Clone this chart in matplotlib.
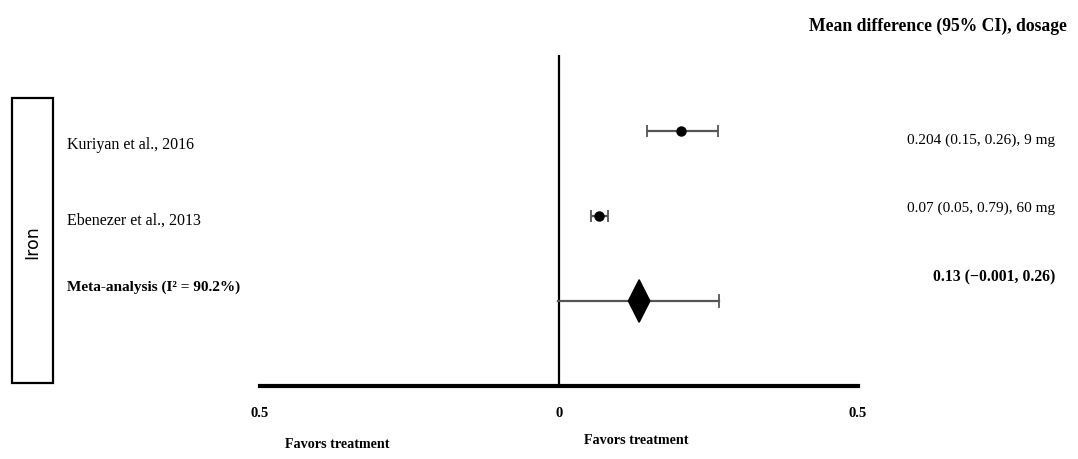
import matplotlib.pyplot as plt
from matplotlib.patches import Polygon, Rectangle

# study rows, top to bottom
studies = ["Kuriyan et al., 2016", "Ebenezer et al., 2013"]
estimates = [0.204, 0.067]
ci_low = [0.147, 0.053]
ci_high = [0.266, 0.082]
value_labels = ["0.204 (0.15, 0.26), 9 mg", "0.07 (0.05, 0.79), 60 mg"]

meta_label = "Meta-analysis (I² = 90.2%)"
meta_est = 0.134
meta_low = -0.001
meta_high = 0.267
meta_value = "0.13 (\u22120.001, 0.26)"

group = "Iron"
header = "Mean difference (95% CI), dosage"
tick_pos = [-0.5, 0, 0.5]
tick_text = ["0.5", "0", "0.5"]
favors = "Favors treatment"

W, H = 1078, 459
SERIF = ["Liberation Serif", "DejaVu Serif"]


def fx(px):
    return px / W


def fy(py):
    return 1 - py / H


fig = plt.figure(figsize=(W / 100, H / 100), dpi=100)
ax = fig.add_axes([fx(260), fy(386), (858 - 260) / W, (386 - 55) / H])
ax.set_xlim(-0.5, 0.5)
ax.set_ylim(3.0, -0.894)

for s in ["top", "right", "left"]:
    ax.spines[s].set_visible(False)
ax.spines["bottom"].set_linewidth(3)
ax.set_yticks([])
ax.set_xticks(tick_pos)
ax.set_xticklabels(tick_text, family=SERIF, fontweight="bold", fontsize=10.5)
ax.tick_params(axis="x", length=0, pad=15)

ax.axvline(0, color="black", lw=1.6, zorder=1)

rows = list(range(len(studies)))
for i in rows:
    ax.errorbar(estimates[i], i,
                xerr=[[estimates[i] - ci_low[i]], [ci_high[i] - estimates[i]]],
                fmt="o", color="black", ms=6.5, ecolor="#555555", elinewidth=1.6,
                capsize=4.5, capthick=1.3, zorder=3)

mrow = len(studies)
ax.plot([meta_low, meta_high], [mrow, mrow], color="#555555", lw=1.6, zorder=2)
ax.plot([meta_high, meta_high], [mrow - 0.07, mrow + 0.07], color="#555555", lw=1.3)
dw, dh = 0.018, 0.25
ax.add_patch(Polygon([[meta_est - dw, mrow], [meta_est, mrow - dh],
                      [meta_est + dw, mrow], [meta_est, mrow + dh]],
                     closed=True, color="black", zorder=4))

# left labels
label_y = [145, 221]
for name, y in zip(studies, label_y):
    fig.text(fx(67), fy(y), name, family=SERIF, fontsize=11.5, va="center", ha="left")
fig.text(fx(67), fy(287), meta_label, family=SERIF, fontsize=11,
         fontweight="bold", va="center", ha="left")

# right values
value_y = [140, 208]
for txt, y in zip(value_labels, value_y):
    fig.text(fx(1055), fy(y), txt, family=SERIF, fontsize=11, va="center", ha="right")
fig.text(fx(1055), fy(277), meta_value, family=SERIF, fontsize=11.3,
         fontweight="bold", va="center", ha="right")

fig.text(fx(1067), fy(26), header, family=SERIF, fontsize=12.7,
         fontweight="bold", va="center", ha="right")

# group box
fig.patches.append(Rectangle((fx(12), fy(383)), fx(53) - fx(12), fy(98) - fy(383),
                             transform=fig.transFigure, fill=False, lw=1.6,
                             edgecolor="black", figure=fig))
fig.text(fx(32), fy(242), group, family="DejaVu Sans", fontsize=12.5,
         rotation=90, va="center", ha="center")

fig.text(fx(337), fy(445), favors, family=SERIF, fontsize=10.2,
         fontweight="bold", va="center", ha="center")
fig.text(fx(636), fy(441), favors, family=SERIF, fontsize=10.2,
         fontweight="bold", va="center", ha="center")

fig.savefig("out.png", dpi=100)
